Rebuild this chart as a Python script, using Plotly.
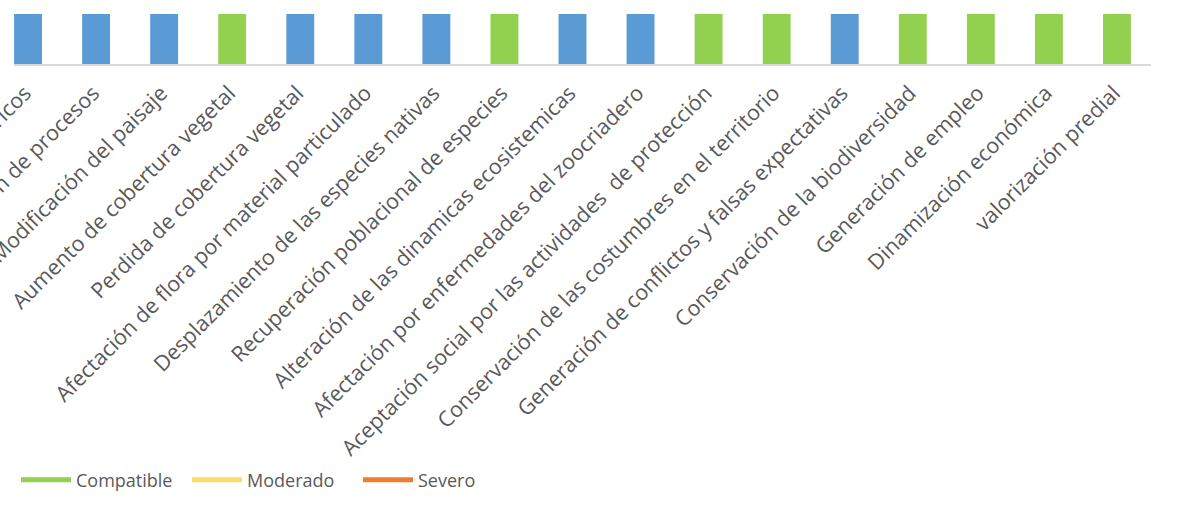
import plotly.graph_objects as go

# categories as read from the (left-cropped) axis
impactos = [
    'Afectación de recursos hídricos',
    'Alteración de procesos',
    'Modificación del paisaje',
    'Aumento de cobertura vegetal',
    'Perdida de cobertura vegetal',
    'Afectación de flora por material particulado',
    'Desplazamiento de las especies nativas',
    'Recuperación poblacional de especies',
    'Alteración de las dinamicas ecosistemicas',
    'Afectación por enfermedades del zoocriadero',
    'Aceptación social por las actividades  de protección',
    'Conservación de las costumbres en el territorio',
    'Generación de conflictos y falsas expectativas',
    'Conservación de la biodiversidad',
    'Generación de empleo',
    'Dinamización económica',
    'valorización predial',
]
valor = [1] * len(impactos)
# 'N' negative impact (blue), 'P' positive impact (green)
tipo = ['N', 'N', 'N', 'P', 'N', 'N', 'N', 'P', 'N', 'N',
        'P', 'P', 'N', 'P', 'P', 'P', 'P']
leyenda = ['Compatible', 'Moderado', 'Severo']
color_leyenda = ['#92D050', '#FFD966', '#ED7D31']

colores = {'N': '#5B9BD5', 'P': '#92D050'}

W, H = 1177, 514
x0, x1 = 14, 1151      # plot area in px
y0, y1 = 14, 64

fig = go.Figure(go.Bar(
    x = list(range(len(impactos))),
    y = valor,
    marker = dict(color = [colores[t] for t in tipo], line = dict(width = 0)),
    showlegend = False))

for nombre, c in zip(leyenda, color_leyenda):
    fig.add_trace(go.Scatter(
        x = [None], y = [None],
        mode = 'lines',
        name = nombre,
        line = dict(color = c, width = 5)))

fig.update_layout(
    width = W, height = H,
    margin = dict(l = x0, r = W - x1, t = y0, b = H - y1, autoexpand = False),
    plot_bgcolor = 'white',
    paper_bgcolor = 'white',
    bargap = 0.59,
    font = dict(family = 'Open Sans', color = '#595959'),
    legend = dict(
        orientation = 'h',
        xref = 'container', yref = 'container',
        x = 16 / W, y = 1 - 480 / H,
        xanchor = 'left', yanchor = 'middle',
        itemwidth = 50,
        entrywidth = 106,
        font = dict(family = 'Open Sans', size = 18, color = '#595959')))

fig.update_xaxes(
    range = [-0.206, 16.5],
    tickmode = 'array',
    tickvals = list(range(len(impactos))),
    ticktext = impactos,
    tickangle = -45,
    tickfont = dict(family = 'Open Sans', size = 21.5, color = '#595959'),
    ticklabeloverflow = 'allow',
    ticklabelstandoff = 6,
    ticklabelshift = -3,
    automargin = False,
    showline = True, linecolor = '#D9D9D9', linewidth = 2,
    showgrid = False, zeroline = False, ticks = '')

fig.update_yaxes(range = [0, 1], visible = False)

fig.write_html('out.html', config = {'displayModeBar': False},
               post_script = "document.body.style.margin = '0';")
